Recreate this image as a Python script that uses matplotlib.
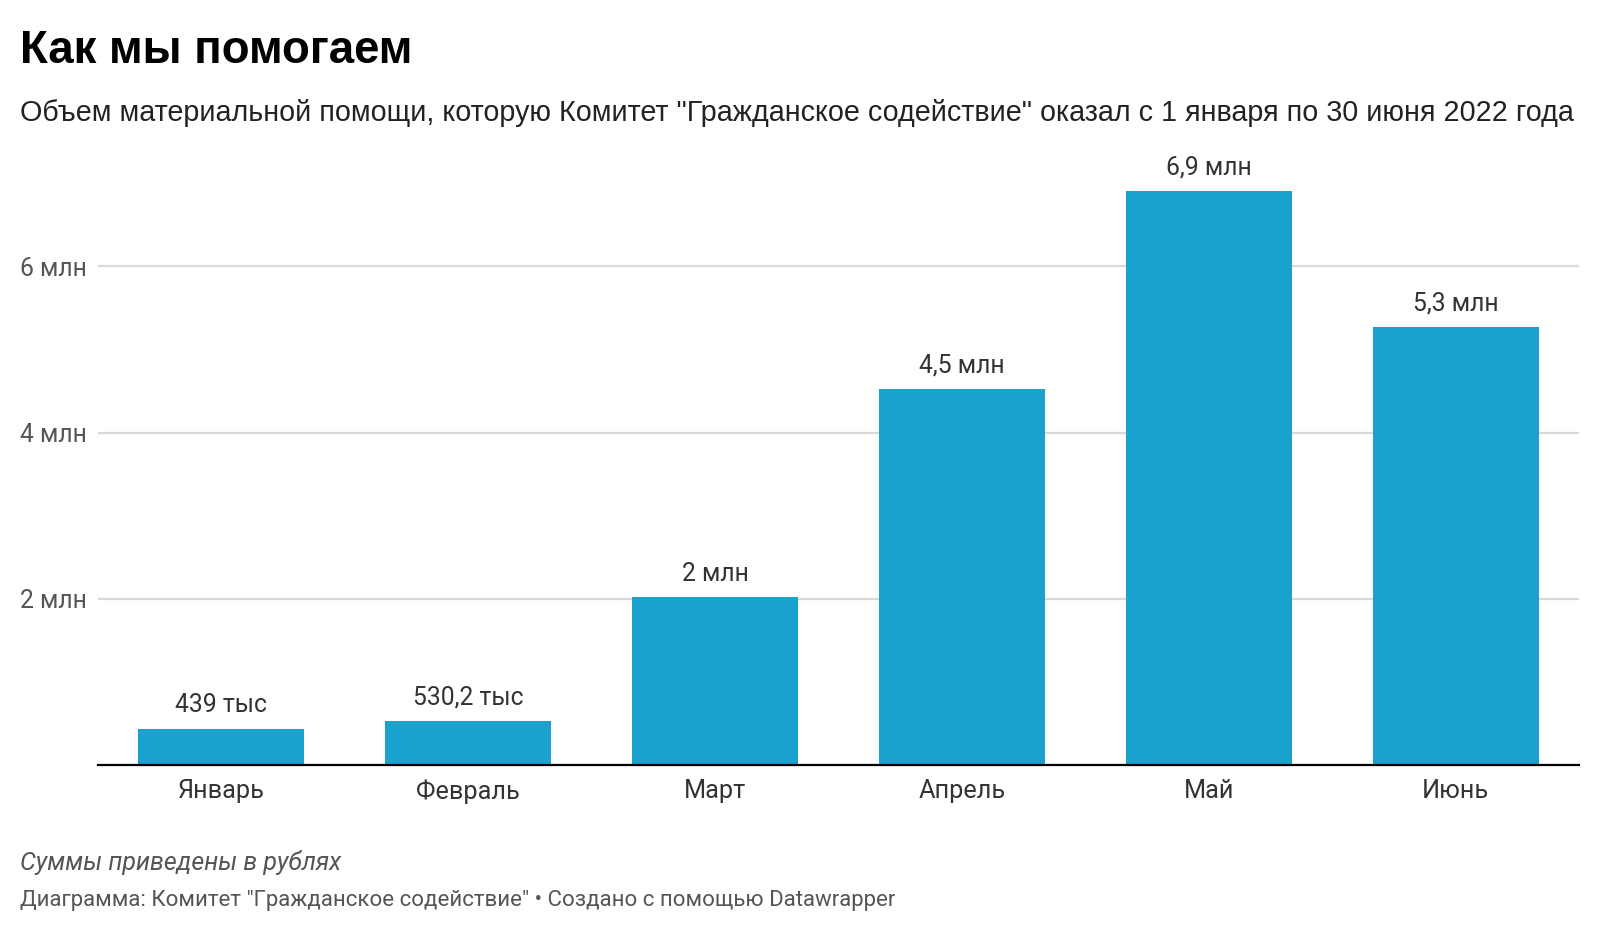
import matplotlib
matplotlib.use("Agg")
import matplotlib.pyplot as plt

months = ["Январь", "Февраль", "Март", "Апрель", "Май", "Июнь"]
values = [439000, 530200, 2020000, 4520000, 6900000, 5270000]
value_labels = ["439 тыс", "530,2 тыс", "2 млн", "4,5 млн", "6,9 млн", "5,3 млн"]
yticks = [2e6, 4e6, 6e6]
ytick_labels = ["2 млн", "4 млн", "6 млн"]

W, H = 1600, 935
fig = plt.figure(figsize=(W / 100, H / 100), dpi=100)
fig.patch.set_facecolor("white")

left, right = 98 / W, 1579 / W
bottom, top = 1 - 765.3 / H, 1 - 183 / H
ax = fig.add_axes([left, bottom, right - left, top - bottom])

bar_color = "#1aa1cd"
x = list(range(len(months)))
ax.bar(x, values, width=0.673, color=bar_color, zorder=3)
ax.set_xlim(-0.5, len(months) - 0.5)
ax.set_ylim(0, 7e6)

for s in ["top", "right", "left"]:
    ax.spines[s].set_visible(False)
ax.spines["bottom"].set_color("#000000")
ax.spines["bottom"].set_linewidth(1.6)
ax.spines["bottom"].set_zorder(4)

for y in yticks:
    ax.axhline(y, color="#d9d9d9", lw=1.6, zorder=1)

ax.set_yticks(yticks)
ax.set_yticklabels(ytick_labels, fontfamily="Roboto", fontsize=17.8, color="#555555")
ax.tick_params(axis="y", length=0, pad=56)
for lbl in ax.get_yticklabels():
    lbl.set_horizontalalignment("left")

ax.set_xticks(x)
ax.set_xticklabels(months, fontfamily="Roboto", fontsize=18.2, color="#333333")
ax.tick_params(axis="x", length=0, pad=10)

for xi, v, t in zip(x, values, value_labels):
    ax.annotate(t, (xi, v), xytext=(0, 12), textcoords="offset points",
                ha="center", va="baseline", fontfamily="Roboto", fontsize=17.8,
                color="#333333")

fig.text(20.5 / W, 1 - 63 / H, "Как мы помогаем", fontfamily="Liberation Sans",
         fontweight="bold", fontsize=32.9, color="#000000", va="baseline")
fig.text(20.5 / W, 1 - 121 / H,
         "Объем материальной помощи, которую Комитет \"Гражданское содействие\" оказал с 1 января по 30 июня 2022 года",
         fontfamily="Liberation Sans", fontsize=20.7, color="#222222", va="baseline")
fig.text(20.5 / W, 1 - 870 / H, "Суммы приведены в рублях", fontfamily="Roboto",
         style="italic", fontsize=18, color="#555555", va="baseline")
fig.text(20.5 / W, 1 - 906 / H,
         "Диаграмма: Комитет \"Гражданское содействие\" • Создано с помощью Datawrapper",
         fontfamily="Roboto", fontsize=16, color="#555555", va="baseline")

fig.savefig("out.png", dpi=100, facecolor="white")
